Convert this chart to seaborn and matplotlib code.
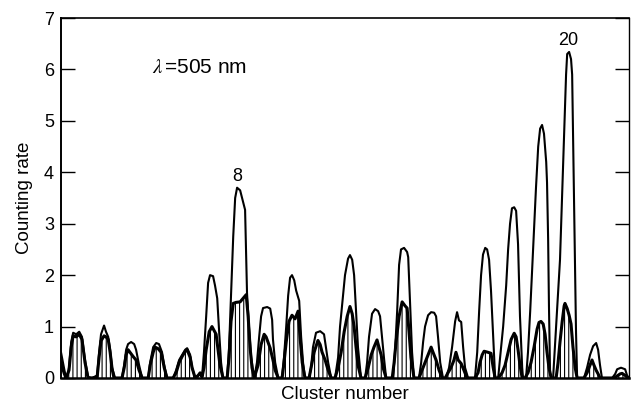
import matplotlib
matplotlib.use("Agg")
import matplotlib.pyplot as plt
import pandas as pd
import seaborn as sns

# ---- data (x in cluster number, y = counting rate) ----
# upper trace (open curve)
upper_x = [1.62, 1.70, 1.77, 1.84,
           1.91, 1.99, 2.06, 2.17, 2.28, 2.38, 2.49, 2.60, 2.75,
           2.93, 3.00, 3.07, 3.18, 3.25, 3.33, 3.40, 3.47, 3.58,
           3.83, 3.91, 3.98, 4.05, 4.16, 4.27, 4.34, 4.45, 4.56,
           4.78, 4.85, 4.96, 5.07, 5.17, 5.28, 5.36, 5.46,
           5.68, 5.79, 5.90, 6.01, 6.12, 6.19, 6.30, 6.37, 6.48, 6.59, 6.66,
           6.73, 6.80, 6.88, 6.95, 7.02, 7.13, 7.20, 7.28, 7.35, 7.42, 7.49,
           7.64, 7.71, 7.78, 7.86, 7.93, 8.00, 8.11, 8.18, 8.29, 8.36, 8.43, 8.51, 8.62,
           8.72, 8.80, 8.87, 8.94, 9.09, 9.20, 9.27, 9.30, 9.38, 9.49,
           9.63, 9.70, 9.78, 9.85, 9.92, 9.99, 10.07, 10.14, 10.25, 10.32, 10.39, 10.46,
           10.61, 10.68, 10.75, 10.86, 11.01, 11.15, 11.22, 11.30, 11.41,
           11.55, 11.66, 11.73, 11.84, 11.91, 12.02, 12.09, 12.17, 12.24, 12.31, 12.38, 12.49,
           12.64, 12.71, 12.78, 12.89, 13.00, 13.11, 13.18, 13.25, 13.33, 13.40,
           13.65, 13.72, 13.80, 13.87, 13.94, 14.05, 14.16, 14.20, 14.27, 14.34, 14.41,
           14.59, 14.67, 14.74, 14.81, 14.92, 15.03, 15.14, 15.21, 15.28, 15.36, 15.46,
           15.57, 15.68, 15.79, 15.90, 15.97, 16.04, 16.12, 16.19, 16.26, 16.37,
           16.62, 16.70, 16.77, 16.84, 16.91, 16.99, 17.06, 17.13, 17.20, 17.28, 17.35,
           17.46, 17.53, 17.64, 17.75, 17.82, 17.89, 17.96, 18.04, 18.11, 18.18, 18.25, 18.33, 18.36,
           18.47, 18.54, 18.62, 18.69, 18.76, 18.83, 18.91, 18.98, 19.05, 19.12, 19.20, 19.23, 19.27, 19.30, 19.34, 19.38,
           19.45, 19.59, 19.70, 19.81, 19.92, 19.96, 20.03, 20.10, 20.14, 20.21, 20.28, 20.32,
           20.57, 20.68, 20.79, 20.90, 21.01, 21.08, 21.15, 21.22,
           21.59, 21.70, 21.77, 21.91, 22.06, 22.13, 22.20]
upper_y = [0.50, 0.28, 0.08, 0.00,
           0.20, 0.70, 0.88, 0.85, 0.90, 0.80, 0.35, 0.02, 0.00,
           0.05, 0.50, 0.85, 1.02, 0.90, 0.80, 0.55, 0.20, 0.00,
           0.00, 0.25, 0.55, 0.66, 0.70, 0.66, 0.55, 0.25, 0.00,
           0.00, 0.30, 0.60, 0.68, 0.66, 0.50, 0.25, 0.00,
           0.00, 0.15, 0.35, 0.45, 0.55, 0.58, 0.45, 0.20, 0.00, 0.05, 0.10,
           0.02, 0.50, 1.20, 1.85, 2.00, 1.98, 1.80, 1.55, 0.90, 0.30, 0.00,
           0.00, 0.60, 1.60, 2.75, 3.50, 3.70, 3.65, 3.50, 3.27, 1.65, 1.00, 0.40, 0.00,
           0.30, 0.80, 1.20, 1.36, 1.38, 1.35, 1.13, 0.75, 0.30, 0.00,
           0.00, 0.40, 1.00, 1.60, 1.95, 2.00, 1.90, 1.70, 1.50, 0.80, 0.30, 0.00,
           0.00, 0.20, 0.60, 0.88, 0.91, 0.85, 0.60, 0.30, 0.00,
           0.00, 0.40, 1.00, 1.60, 2.00, 2.32, 2.39, 2.30, 2.00, 1.30, 0.60, 0.00,
           0.00, 0.30, 0.80, 1.25, 1.34, 1.30, 1.20, 0.80, 0.35, 0.00,
           0.00, 0.50, 1.30, 2.20, 2.50, 2.53, 2.45, 2.35, 1.40, 0.50, 0.00,
           0.00, 0.30, 0.70, 1.00, 1.22, 1.28, 1.27, 1.20, 0.80, 0.30, 0.00,
           0.00, 0.20, 0.60, 1.10, 1.28, 1.12, 1.09, 0.60, 0.20, 0.00,
           0.00, 0.50, 1.30, 2.00, 2.40, 2.53, 2.50, 2.30, 1.70, 0.80, 0.00,
           0.00, 0.40, 1.00, 1.80, 2.50, 3.00, 3.30, 3.32, 3.25, 2.60, 1.20, 0.20, 0.00,
           0.00, 0.50, 1.30, 2.10, 2.90, 3.70, 4.50, 4.85, 4.92, 4.75, 4.20, 3.80, 2.70, 1.40, 0.10, 0.00,
           0.00, 1.30, 2.30, 4.10, 5.90, 6.30, 6.34, 6.20, 5.90, 3.40, 0.90, 0.00,
           0.00, 0.20, 0.45, 0.62, 0.68, 0.55, 0.25, 0.00,
           0.00, 0.08, 0.17, 0.20, 0.17, 0.05, 0.00]

# lower trace (hatched curve)
lower_x = [1.62, 1.73, 1.80,
           1.91, 1.99, 2.06, 2.17, 2.28, 2.38, 2.49, 2.60, 2.75,
           2.93, 3.00, 3.07, 3.18, 3.25, 3.33, 3.40, 3.47, 3.54,
           3.83, 3.91, 3.98, 4.05, 4.12, 4.23, 4.34, 4.45, 4.56,
           4.78, 4.85, 4.96, 5.03, 5.14, 5.25, 5.36, 5.46,
           5.68, 5.79, 5.90, 6.01, 6.12, 6.19, 6.30, 6.37, 6.48, 6.59, 6.66,
           6.73, 6.80, 6.88, 6.99, 7.09, 7.17, 7.24, 7.31, 7.38, 7.49,
           7.64, 7.71, 7.78, 7.86, 7.96, 8.11, 8.22, 8.33, 8.40, 8.47, 8.54, 8.62,
           8.76, 8.87, 8.98, 9.05, 9.12, 9.20, 9.30, 9.38, 9.49,
           9.63, 9.70, 9.78, 9.88, 9.99, 10.10, 10.21, 10.28, 10.36, 10.46,
           10.61, 10.68, 10.79, 10.93, 11.01, 11.08, 11.19, 11.30, 11.41,
           11.55, 11.66, 11.77, 11.88, 11.99, 12.09, 12.17, 12.24, 12.31, 12.38, 12.49,
           12.64, 12.75, 12.86, 12.96, 13.07, 13.14, 13.22, 13.29, 13.40,
           13.62, 13.69, 13.76, 13.87, 13.98, 14.09, 14.16, 14.23, 14.30, 14.41,
           14.59, 14.70, 14.81, 14.92, 15.03, 15.10, 15.21, 15.32, 15.43,
           15.54, 15.64, 15.75, 15.86, 15.93, 16.01, 16.12, 16.22, 16.33,
           16.62, 16.73, 16.80, 16.88, 16.95, 17.09, 17.20, 17.28, 17.35,
           17.46, 17.60, 17.71, 17.82, 17.93, 18.04, 18.11, 18.18, 18.25, 18.33,
           18.43, 18.54, 18.65, 18.76, 18.87, 18.94, 19.01, 19.09, 19.16, 19.23, 19.30, 19.38,
           19.56, 19.63, 19.70, 19.78, 19.85, 19.88, 19.96, 20.03, 20.10, 20.17, 20.25, 20.32,
           20.57, 20.68, 20.79, 20.86, 20.93, 21.01, 21.08, 21.15,
           21.66, 21.77, 21.88, 21.95, 22.06, 22.17, 22.20]
lower_y = [0.30, 0.10, 0.00,
           0.15, 0.60, 0.82, 0.80, 0.85, 0.75, 0.30, 0.00, 0.00,
           0.02, 0.40, 0.72, 0.82, 0.80, 0.75, 0.50, 0.18, 0.00,
           0.00, 0.20, 0.45, 0.55, 0.50, 0.42, 0.35, 0.15, 0.00,
           0.00, 0.25, 0.50, 0.60, 0.57, 0.50, 0.20, 0.00,
           0.00, 0.10, 0.30, 0.42, 0.52, 0.55, 0.40, 0.20, 0.00, 0.05, 0.10,
           0.02, 0.20, 0.55, 0.90, 1.00, 0.92, 0.85, 0.55, 0.25, 0.00,
           0.00, 0.40, 1.10, 1.45, 1.47, 1.48, 1.55, 1.62, 1.20, 0.60, 0.20, 0.00,
           0.25, 0.65, 0.85, 0.80, 0.70, 0.58, 0.35, 0.15, 0.00,
           0.00, 0.30, 0.70, 1.10, 1.22, 1.15, 1.30, 0.80, 0.30, 0.00,
           0.00, 0.20, 0.50, 0.73, 0.65, 0.50, 0.35, 0.15, 0.00,
           0.00, 0.20, 0.50, 0.90, 1.20, 1.39, 1.25, 1.00, 0.60, 0.25, 0.00,
           0.00, 0.20, 0.45, 0.60, 0.74, 0.60, 0.45, 0.20, 0.00,
           0.00, 0.30, 0.70, 1.20, 1.48, 1.40, 1.36, 0.90, 0.40, 0.00,
           0.00, 0.15, 0.30, 0.45, 0.60, 0.50, 0.35, 0.15, 0.00,
           0.00, 0.10, 0.20, 0.35, 0.50, 0.35, 0.28, 0.15, 0.00,
           0.00, 0.10, 0.30, 0.45, 0.52, 0.50, 0.48, 0.20, 0.00,
           0.00, 0.10, 0.25, 0.50, 0.75, 0.87, 0.80, 0.55, 0.25, 0.00,
           0.00, 0.10, 0.30, 0.60, 0.95, 1.08, 1.10, 1.05, 0.85, 0.50, 0.20, 0.00,
           0.00, 0.30, 0.70, 1.10, 1.40, 1.45, 1.35, 1.22, 1.05, 0.60, 0.20, 0.00,
           0.00, 0.10, 0.25, 0.35, 0.25, 0.15, 0.08, 0.00,
           0.00, 0.04, 0.08, 0.09, 0.05, 0.00, 0.00]

y_ticks = [0, 1, 2, 3, 4, 5, 6, 7]
peak_labels = ["8", "20"]
peak_label_x = [8.0, 20.0]
peak_label_y = [3.83, 6.47]
wavelength_text = "$\\lambda\\,$=505 nm"

# ---- plotting ----
sns.set_theme(style="ticks")
plt.rcParams["font.family"] = ["Liberation Sans", "DejaVu Sans"]
plt.rcParams["mathtext.fontset"] = "stix"
plt.rcParams["hatch.linewidth"] = 0.8
plt.rcParams["hatch.color"] = "black"

up = pd.DataFrame({"cluster": upper_x, "rate": upper_y})
lo = pd.DataFrame({"cluster": lower_x, "rate": lower_y})

fig = plt.figure(figsize=(6.31, 4.09), dpi=100)
ax = fig.add_axes([61 / 631, 1 - 378 / 409, (629 - 61) / 631, (378 - 18) / 409])

ax.fill_between(lo["cluster"], 0, lo["rate"], facecolor="white",
                edgecolor="black", hatch="||||", linewidth=0)
sns.lineplot(data=up, x="cluster", y="rate", ax=ax, color="black",
             linewidth=1.5, estimator=None, sort=False)
sns.lineplot(data=lo, x="cluster", y="rate", ax=ax, color="black",
             linewidth=2.2, estimator=None, sort=False)

ax.set_xlim(upper_x[0], upper_x[-1])
ax.set_ylim(0, 7)
ax.set_xticks([])
ax.set_yticks(y_ticks)
ax.set_yticklabels([str(t) for t in y_ticks])
ax.tick_params(axis="y", direction="in", length=10, width=1.0,
               right=True, labelright=False, labelsize=13, pad=5, colors="black")
for side, lw in [("left", 1.4), ("right", 1.0), ("top", 1.2), ("bottom", 1.8)]:
    ax.spines[side].set_visible(True)
    ax.spines[side].set_linewidth(lw)
    ax.spines[side].set_color("black")

ax.set_xlabel("Cluster number", fontsize=13.5, labelpad=6, color="black")
ax.set_ylabel("Counting rate", fontsize=13.5, labelpad=8, color="black")

for lab, lx, ly in zip(peak_labels, peak_label_x, peak_label_y):
    ax.text(lx, ly, lab, ha="center", va="baseline", fontsize=13, color="black")
ax.text(4.9, 6.03, wavelength_text, ha="left", va="center", fontsize=15, color="black")

fig.savefig("out.png", dpi=100)
